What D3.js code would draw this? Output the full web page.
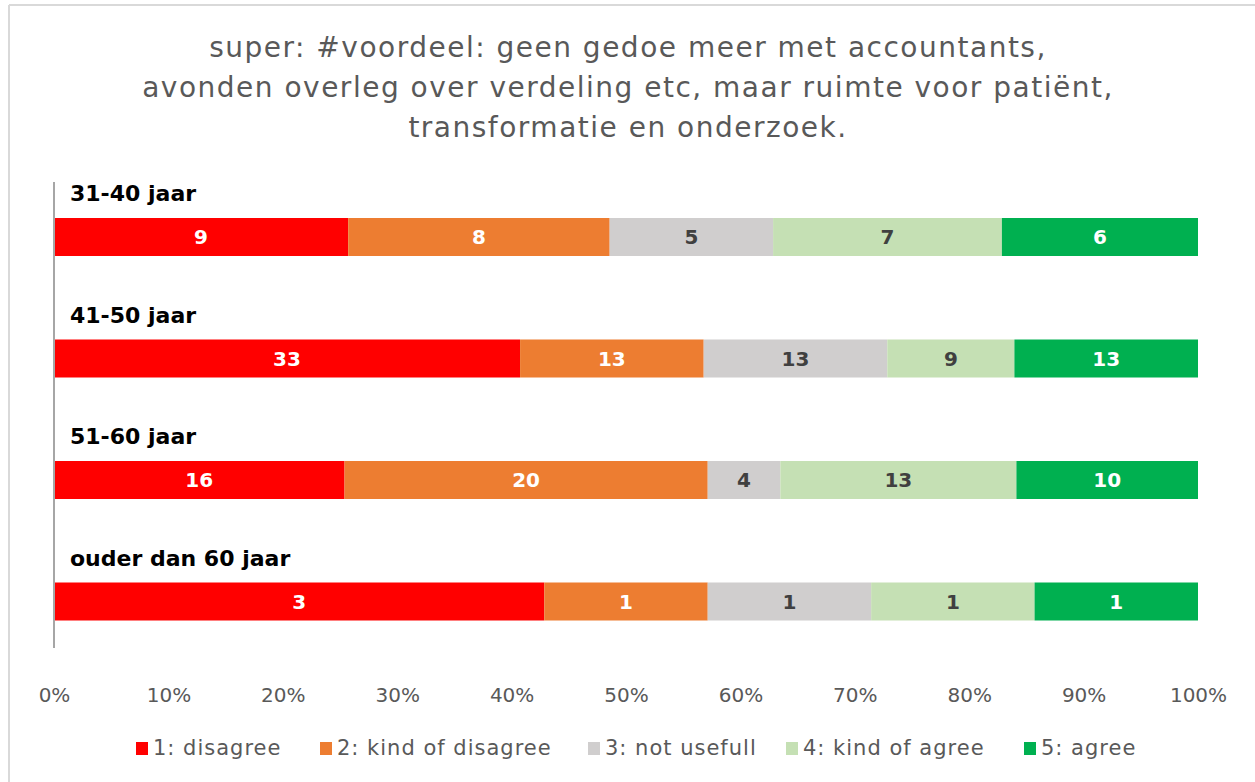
<!DOCTYPE html>
<html><head><meta charset="utf-8">
<script src="https://cdn.jsdelivr.net/npm/d3@7"></script>
<style>body{margin:0;background:#fff}svg{display:block}</style>
</head><body>
<svg id="c" width="1255" height="782"></svg>
<script>
const titleLines = ["super: #voordeel: geen gedoe meer met accountants,", "avonden overleg over verdeling etc, maar ruimte voor patiënt,", "transformatie en onderzoek."];
const categories = ["31-40 jaar", "41-50 jaar", "51-60 jaar", "ouder dan 60 jaar"];
const seriesNames = ["1: disagree", "2: kind of disagree", "3: not usefull", "4: kind of agree", "5: agree"];
const seriesColors = ["#FF0000", "#ED7D31", "#D0CECE", "#C5E0B4", "#00B050"];
const labelColors = ["#FFFFFF", "#FFFFFF", "#404040", "#404040", "#FFFFFF"];
const disagree = [9, 33, 16, 3];
const kindDisagree = [8, 13, 20, 1];
const notUseful = [5, 13, 4, 1];
const kindAgree = [7, 9, 13, 1];
const agree = [6, 13, 10, 1];
const tickValues = [0, 0.1, 0.2, 0.3, 0.4, 0.5, 0.6, 0.7, 0.8, 0.9, 1];

const series = [disagree, kindDisagree, notUseful, kindAgree, agree];
const FONT = "'DejaVu Sans', sans-serif";
const svg = d3.select("#c");

// frame
svg.append("line").attr("x1", 9).attr("x2", 1255).attr("y1", 5).attr("y2", 5).attr("stroke", "#d9d9d9").attr("stroke-width", 2);
svg.append("line").attr("x1", 9).attr("x2", 9).attr("y1", 5).attr("y2", 782).attr("stroke", "#d9d9d9").attr("stroke-width", 2);

// title
svg.append("g").selectAll("text").data(titleLines).join("text")
  .attr("x", 628).attr("y", (d, i) => 57 + i * 40)
  .attr("text-anchor", "middle").attr("font-family", FONT).attr("font-size", 28)
  .attr("letter-spacing", 1.5)
  .attr("fill", "#595959").text(d => d);

const x = d3.scaleLinear().domain([0, 1]).range([54, 1198]);
const y = d3.scaleBand().domain(categories).range([176, 662]);

const rows = categories.map((c, i) => {
  const vals = series.map(s => s[i]);
  const tot = d3.sum(vals);
  let acc = 0;
  return vals.map((v, k) => { const s0 = acc / tot; acc += v; return {cat: c, k, v, s0, s1: acc / tot}; });
});

const bars = svg.append("g");
rows.forEach(r => {
  bars.selectAll(null).data(r).join("rect")
    .attr("x", d => x(d.s0)).attr("width", d => x(d.s1) - x(d.s0))
    .attr("y", d => y(d.cat) + 42).attr("height", 38)
    .attr("fill", d => seriesColors[d.k]);
  bars.selectAll(null).data(r).join("text")
    .attr("x", d => (x(d.s0) + x(d.s1)) / 2).attr("y", d => y(d.cat) + 61)
    .attr("dy", "0.35em").attr("text-anchor", "middle")
    .attr("font-family", FONT).attr("font-weight", "bold").attr("font-size", 20)
    .attr("fill", d => labelColors[d.k]).text(d => d.v);
});

// category labels
svg.append("g").selectAll("text").data(categories).join("text")
  .attr("x", 70).attr("y", d => y(d) + 25)
  .attr("font-family", FONT).attr("font-weight", "bold").attr("font-size", 22)
  .attr("fill", "#000").text(d => d);

// left axis line
svg.append("line").attr("x1", 54).attr("x2", 54).attr("y1", 182).attr("y2", 648)
  .attr("stroke", "#a6a6a6").attr("stroke-width", 2);

// x axis
const xAxis = svg.append("g").attr("transform", "translate(0,695)")
  .call(d3.axisBottom(x).tickValues(tickValues).tickFormat(d3.format(".0%")).tickSize(0).tickPadding(0));
xAxis.select(".domain").remove();
xAxis.selectAll("text").attr("font-family", FONT).attr("font-size", 20).attr("fill", "#595959").attr("dy", "0.35em");

// legend
const legendX = [136, 320, 588, 786, 1024];
const lg = svg.append("g").selectAll("g").data(seriesNames).join("g")
  .attr("transform", (d, i) => `translate(${legendX[i]},748)`);
lg.append("rect").attr("x", 0).attr("y", -6).attr("width", 12).attr("height", 13).attr("fill", (d, i) => seriesColors[i]);
lg.append("text").attr("x", 17).attr("y", 0).attr("dy", "0.35em")
  .attr("font-family", FONT).attr("font-size", 21).attr("letter-spacing", 1.0)
  .attr("fill", "#595959").text(d => d);
</script>
</body></html>
